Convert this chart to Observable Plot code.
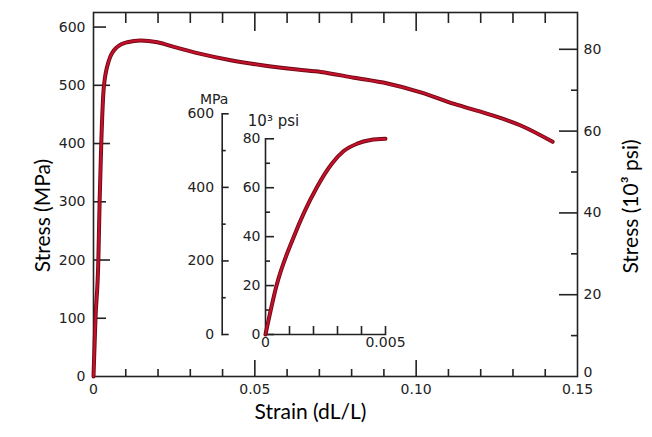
<!DOCTYPE html>
<html>
<head>
<meta charset="utf-8">
<script src="https://cdn.jsdelivr.net/npm/d3@7"></script>
<script src="https://cdn.jsdelivr.net/npm/@observablehq/plot@0.6"></script>
<style>
  body { margin: 0; background: white; }
  #chart { position: relative; width: 652px; height: 437px; background: white; }
  #chart svg { position: absolute; left: 0; top: 0; overflow: visible; }
</style>
</head>
<body>
<div id="chart"></div>
<script>
// ---- Main curve (strain, stress in MPa)
const mainStrain = [0, 0.0006, 0.0015, 0.0019, 0.0024, 0.0032, 0.0048, 0.0074, 0.0105, 0.0146, 0.0198, 0.0249, 0.0332, 0.0425, 0.0528, 0.0632, 0.0704, 0.0807, 0.0911, 0.1014, 0.1118, 0.1221, 0.1324, 0.1423];
const mainStress = [0, 98, 199, 301, 399, 497, 543, 566, 574, 577, 574, 566, 554, 543, 534, 527, 523, 513, 503, 488, 468, 451, 431, 403];

// ---- Inset curve (strain, stress in 10^3 psi)
const insetStrain = [0, 0.00046, 0.00118, 0.00213, 0.00278, 0.00326, 0.00382, 0.00438, 0.005];
const insetStressKsi = [0, 20, 40, 60, 70, 75, 78, 79.5, 80];

// ---- Tick values
const mpaTicks = [0, 100, 200, 300, 400, 500, 600];
const mpaLongTicks = [200, 400, 500];
const mpaShortTicks = [100, 300, 600];
const strainMinorTicks = [0.01, 0.02, 0.03, 0.04, 0.06, 0.07, 0.08, 0.09, 0.11, 0.12, 0.13, 0.14];
const strainMajorTicks = [0.05, 0.10];
const strainLabelTicks = [0, 0.05, 0.10, 0.15];
const ksiMajorTicks = [20, 40, 60, 80];
const ksiMinorTicks = [10, 30, 50, 70];
const ksiLabelTicks = [20, 40, 60, 80];
const ksiZeroLabel = [0];

const insetMpaTicks = [0, 200, 400, 600];
const insetMpaMinor = [100, 300, 500];
const insetKsiTicks = [0, 20, 40, 60, 80];
const insetKsiMinor = [10, 30, 50, 70];
const insetStrainTicks = [0.001, 0.002, 0.003, 0.004, 0.005];
const insetStrainLabels = [0, 0.005];

const mainData = mainStrain.map((s, i) => ({strain: s, stress: mainStress[i]}));
const insetData = insetStrain.map((s, i) => ({strain: s, stress: insetStressKsi[i]}));

const W = 652, H = 437;
const ink = "#222";
const tickFont = "DejaVu Sans, sans-serif";
const labelFont = "Lato, 'Open Sans', sans-serif";
const darkRed = "#6e0a14", red = "#c3112c";
const baseStyle = {fontFamily: tickFont, fontSize: "14px", color: ink, background: "transparent", overflow: "visible"};

const M = {top: 12, right: 75, bottom: 61, left: 93};

const fmtStrain = d => d === 0 ? "0" : d.toFixed(2);

// Main plot (MPa)
const main = Plot.plot({
  width: W, height: H,
  marginTop: M.top, marginRight: M.right, marginBottom: M.bottom, marginLeft: M.left,
  style: {...baseStyle, background: "white"},
  x: {domain: [0, 0.15]},
  y: {domain: [0, 625]},
  marks: [
    Plot.frame({stroke: ink, strokeWidth: 1.6}),
    Plot.axisY(mpaLongTicks, {anchor: "left", tickSize: -17, fill: "none", label: null, strokeWidth: 1.6}),
    Plot.axisY(mpaShortTicks, {anchor: "left", tickSize: -13, fill: "none", label: null, strokeWidth: 1.6}),
    Plot.axisY(mpaTicks, {anchor: "left", tickSize: 0, tickPadding: 8, label: null}),
    Plot.axisX(strainMinorTicks, {anchor: "bottom", tickSize: -7, fill: "none", label: null, strokeWidth: 1.6}),
    Plot.axisX(strainMajorTicks, {anchor: "bottom", tickSize: -16, fill: "none", label: null, strokeWidth: 1.6}),
    Plot.axisX(strainLabelTicks, {anchor: "bottom", tickSize: 0, tickPadding: 8, label: null, tickFormat: fmtStrain}),
    Plot.axisX(strainMinorTicks, {anchor: "top", tickSize: -10, fill: "none", label: null, strokeWidth: 1.6}),
    Plot.axisX(strainMajorTicks, {anchor: "top", tickSize: -18, fill: "none", label: null, strokeWidth: 1.6}),
    Plot.line(mainData, {x: "strain", y: "stress", curve: "monotone-x", stroke: darkRed, strokeWidth: 4}),
    Plot.line(mainData, {x: "strain", y: "stress", curve: "monotone-x", stroke: red, strokeWidth: 2.2}),
    Plot.text(["Stress (MPa)"], {frameAnchor: "left", textAnchor: "middle", rotate: -90, dx: -50, dy: 21, fontSize: 21, fontFamily: labelFont, fill: "black"}),
    Plot.text(["Stress (10³ psi)"], {frameAnchor: "right", textAnchor: "middle", rotate: -90, dx: 54, dy: 12, fontSize: 21, fontFamily: labelFont, fill: "black"}),
    Plot.text(["Strain (dL/L)"], {frameAnchor: "bottom", textAnchor: "middle", dx: -25, dy: 42, fontSize: 21, fontFamily: labelFont, fill: "black"})
  ]
});

// Right axis overlay (10^3 psi)
const rightAxis = Plot.plot({
  width: W, height: H,
  marginTop: M.top, marginRight: M.right, marginBottom: M.bottom, marginLeft: M.left,
  style: baseStyle,
  y: {domain: [0, 89]},
  marks: [
    Plot.axisY(ksiMajorTicks, {anchor: "right", tickSize: -19, fill: "none", label: null, strokeWidth: 1.6}),
    Plot.axisY(ksiMinorTicks, {anchor: "right", tickSize: -7, fill: "none", label: null, strokeWidth: 1.6}),
    Plot.axisY(ksiLabelTicks, {anchor: "right", tickSize: 0, tickPadding: 6, label: null}),
    Plot.axisY(ksiZeroLabel, {anchor: "right", tickSize: 0, tickPadding: 6, dy: -4, label: null})
  ]
});

// Inset (10^3 psi vs strain)
const inset = Plot.plot({
  width: W, height: H,
  marginTop: 138.3, marginRight: 267, marginBottom: 103, marginLeft: 265,
  style: baseStyle,
  x: {domain: [0, 0.005]},
  y: {domain: [0, 80]},
  marks: [
    Plot.frame({anchor: "left", stroke: ink, strokeWidth: 1.6}),
    Plot.frame({anchor: "bottom", stroke: ink, strokeWidth: 1.6}),
    Plot.axisY(insetKsiTicks, {anchor: "left", tickSize: -9, fill: "none", label: null, strokeWidth: 1.6}),
    Plot.axisY(insetKsiMinor, {anchor: "left", tickSize: -5, fill: "none", label: null, strokeWidth: 1.6}),
    Plot.axisY(insetKsiTicks, {anchor: "left", tickSize: 0, tickPadding: 5, label: null}),
    Plot.axisX(insetStrainTicks, {anchor: "bottom", tickSize: -8, fill: "none", label: null, strokeWidth: 1.6}),
    Plot.axisX(insetStrainLabels, {anchor: "bottom", tickSize: 0, tickPadding: 3, label: null, tickFormat: d => d === 0 ? "0" : d.toFixed(3)}),
    Plot.line(insetData, {x: "strain", y: "stress", curve: "monotone-x", stroke: darkRed, strokeWidth: 4}),
    Plot.line(insetData, {x: "strain", y: "stress", curve: "monotone-x", stroke: red, strokeWidth: 2.2}),
    Plot.text(["10³ psi"], {frameAnchor: "top-left", textAnchor: "middle", dx: 8, dy: -23, fontSize: 15, fill: ink})
  ]
});

// Inset MPa axis
const insetMpa = Plot.plot({
  width: W, height: H,
  marginTop: 113.3, marginRight: 400, marginBottom: 103, marginLeft: 221.7,
  style: baseStyle,
  y: {domain: [0, 600]},
  marks: [
    Plot.frame({anchor: "left", stroke: ink, strokeWidth: 1.6}),
    Plot.axisY(insetMpaTicks, {anchor: "left", tickSize: -7, fill: "none", label: null, strokeWidth: 1.6}),
    Plot.axisY(insetMpaMinor, {anchor: "left", tickSize: -4, fill: "none", label: null, strokeWidth: 1.6}),
    Plot.axisY(insetMpaTicks, {anchor: "left", tickSize: 0, tickPadding: 8, label: null}),
    Plot.text(["MPa"], {frameAnchor: "top-left", textAnchor: "middle", dx: -8, dy: -20, fontSize: 14, fill: ink})
  ]
});

const chart = document.getElementById("chart");
chart.append(main, rightAxis, insetMpa, inset);
</script>
</body>
</html>
